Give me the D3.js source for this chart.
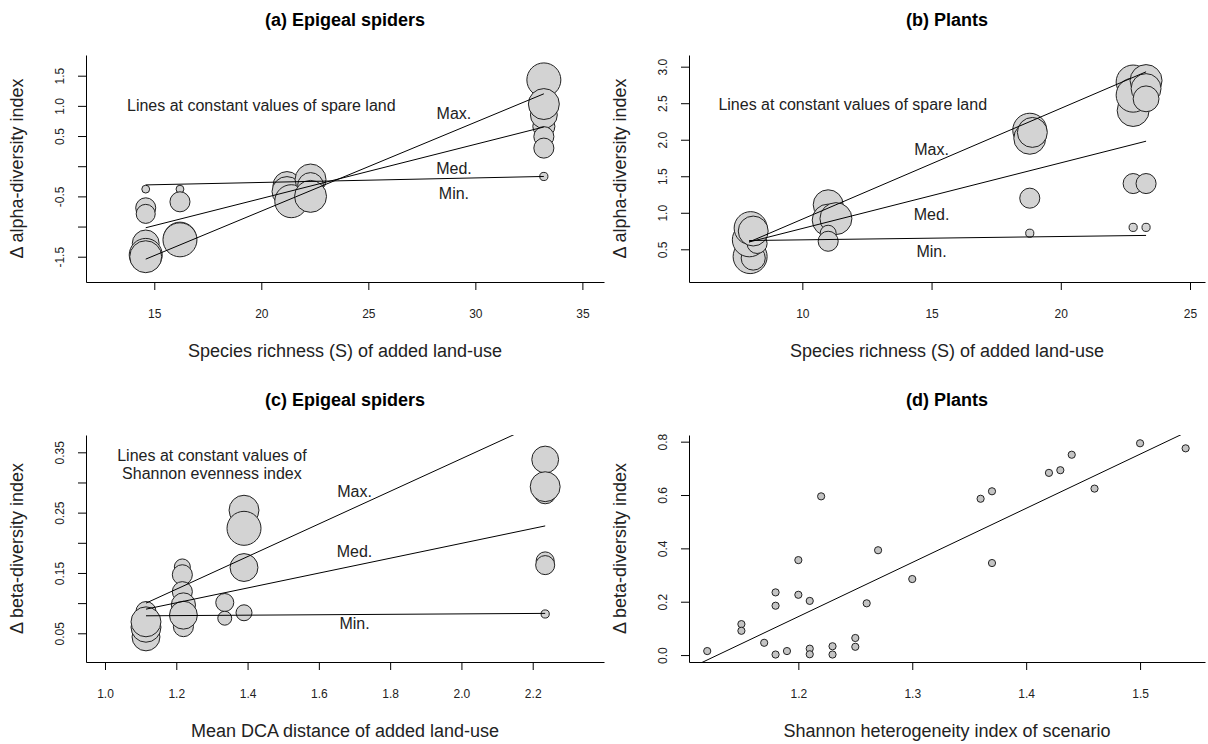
<!DOCTYPE html>
<html>
<head>
<meta charset="utf-8">
<script src="https://cdn.jsdelivr.net/npm/d3@7"></script>
<style>
  body { margin: 0; background: #fff; }
  svg { font-family: "Liberation Sans", Arial, sans-serif; }
</style>
</head>
<body>
<svg id="chart" width="1208" height="744"></svg>
<script>
// (a) spiders: alpha diversity vs species richness, bubble = spare land
const spidersAlphaX = [14.6, 14.6, 14.6, 14.6, 14.6, 14.6, 16.2, 16.2, 16.2, 16.2, 21.2, 21.2, 21.4, 22.3, 22.3, 22.3, 33.2, 33.2, 33.2, 33.2, 33.2, 33.2, 33.2];
const spidersAlphaY = [-0.38, -0.69, -0.79, -1.28, -1.47, -1.5, -0.38, -0.59, -1.2, -1.22, -0.32, -0.42, -0.58, -0.22, -0.32, -0.5, 0.66, 0.85, 1.43, 1.03, 0.49, 0.3, -0.17];
const spidersAlphaSpare = [0.23, 0.59, 0.56, 0.79, 0.97, 0.94, 0.23, 0.59, 0.97, 1.0, 0.82, 0.88, 0.97, 0.91, 0.76, 0.94, 0.65, 0.79, 1.0, 0.91, 0.59, 0.59, 0.24];
const spidersAlphaLines = [
  { name: "Max.", pts: [[14.6, -1.54], [33.2, 1.2]] },
  { name: "Med.", pts: [[14.6, -1.02], [33.2, 0.65]] },
  { name: "Min.", pts: [[14.6, -0.31], [33.2, -0.17]] },
];

// (b) plants: alpha diversity vs species richness
const plantsAlphaX = [7.98, 8.1, 7.95, 8.25, 8.0, 8.1, 11.0, 11.0, 11.3, 11.0, 11.0, 18.8, 18.8, 18.9, 18.8, 18.8, 22.8, 22.8, 22.8, 22.8, 22.8, 23.3, 23.3, 23.3, 23.3, 23.3];
const plantsAlphaY = [0.4, 0.38, 0.63, 0.58, 0.79, 0.75, 1.11, 0.9, 0.92, 0.72, 0.61, 2.13, 2.02, 2.1, 1.2, 0.72, 2.79, 2.4, 2.61, 1.4, 0.8, 2.81, 2.7, 2.56, 1.4, 0.8];
const plantsAlphaSpare = [1.0, 0.71, 1.0, 0.59, 0.97, 0.88, 0.88, 0.94, 0.94, 0.47, 0.59, 1.0, 0.94, 0.88, 0.59, 0.24, 1.0, 0.94, 1.0, 0.59, 0.24, 0.94, 0.88, 0.76, 0.59, 0.24];
const plantsAlphaLines = [
  { name: "Max.", pts: [[7.94, 0.6], [23.3, 2.93]] },
  { name: "Med.", pts: [[7.94, 0.6], [23.3, 1.98]] },
  { name: "Min.", pts: [[7.94, 0.62], [23.3, 0.69]] },
];

// (c) spiders: beta diversity vs mean DCA distance, bubble = evenness
const spidersBetaX = [1.115, 1.115, 1.115, 1.115, 1.217, 1.217, 1.217, 1.22, 1.22, 1.22, 1.336, 1.336, 1.39, 1.39, 1.39, 1.39, 2.235, 2.235, 2.235, 2.235, 2.235, 2.235];
const spidersBetaY = [0.086, 0.044, 0.06, 0.069, 0.16, 0.147, 0.119, 0.097, 0.061, 0.08, 0.101, 0.075, 0.254, 0.224, 0.159, 0.084, 0.338, 0.283, 0.293, 0.17, 0.163, 0.082];
const spidersBetaEven = [0.59, 0.82, 0.88, 0.88, 0.47, 0.59, 0.59, 0.71, 0.59, 0.82, 0.53, 0.41, 0.88, 1.0, 0.82, 0.47, 0.79, 0.65, 0.88, 0.53, 0.56, 0.24];
const spidersBetaLines = [
  { name: "Max.", pts: [[1.115, 0.1], [2.235, 0.403]] },
  { name: "Med.", pts: [[1.115, 0.09], [2.235, 0.228]] },
  { name: "Min.", pts: [[1.115, 0.079], [2.235, 0.083]] },
];

// (d) plants: beta diversity vs Shannon heterogeneity
const plantsBetaX = [1.12, 1.15, 1.15, 1.17, 1.18, 1.18, 1.18, 1.19, 1.2, 1.2, 1.21, 1.21, 1.21, 1.22, 1.23, 1.23, 1.25, 1.25, 1.26, 1.27, 1.3, 1.36, 1.37, 1.37, 1.42, 1.43, 1.44, 1.46, 1.5, 1.54];
const plantsBetaY = [0.015, 0.116, 0.091, 0.046, 0.235, 0.185, 0.002, 0.015, 0.356, 0.226, 0.203, 0.024, 0.003, 0.595, 0.033, 0.002, 0.064, 0.031, 0.194, 0.393, 0.285, 0.586, 0.614, 0.345, 0.683, 0.693, 0.751, 0.624, 0.794, 0.775];
const plantsBetaFit = [{ name: "", pts: [[1.1, -0.059], [1.56, 0.875]] }];

// tick values and labels (R drops labels that would overlap)
const alphaSpidersXTicks = [15, 20, 25, 30, 35];
const alphaSpidersYTicks = [-1.5, -1, -0.5, 0, 0.5, 1, 1.5];
const alphaSpidersYLabels = ["-1.5", "", "-0.5", "", "0.5", "1.0", "1.5"];
const alphaPlantsXTicks = [10, 15, 20, 25];
const alphaPlantsYTicks = [0.5, 1, 1.5, 2, 2.5, 3];
const alphaPlantsYLabels = ["0.5", "1.0", "1.5", "2.0", "2.5", "3.0"];
const betaSpidersXTicks = [1.0, 1.2, 1.4, 1.6, 1.8, 2.0, 2.2];
const betaSpidersYTicks = [0.05, 0.1, 0.15, 0.2, 0.25, 0.3, 0.35];
const betaSpidersYLabels = ["0.05", "", "0.15", "", "0.25", "", "0.35"];
const betaPlantsXTicks = [1.2, 1.3, 1.4, 1.5];
const betaPlantsYTicks = [0, 0.2, 0.4, 0.6, 0.8];
const betaPlantsYLabels = ["0.0", "0.2", "0.4", "0.6", "0.8"];

const svg = d3.select("#chart");
const sizeScale = d3.scaleLinear().domain([0, 1]).range([0, 17]);

const panels = [
  {
    id: "a",
    title: "(a) Epigeal spiders",
    xTitle: "Species richness (S) of added land-use",
    yTitle: "\u0394 alpha-diversity index",
    box: { left: 86, right: 604, top: 55, bottom: 282 },
    xDomain: [11.81, 36.01],
    yDomain: [-1.919, 1.843],
    xTicks: alphaSpidersXTicks,
    xFormat: d3.format("d"),
    yTicks: alphaSpidersYTicks,
    yLabels: alphaSpidersYLabels,
    xs: spidersAlphaX, ys: spidersAlphaY, sizes: spidersAlphaSpare,
    lines: spidersAlphaLines,
    notes: [
      { text: "Lines at constant values of spare land", x: 20, y: 1.01 },
      { text: "Max.", x: 29, y: 0.88 },
      { text: "Med.", x: 29, y: -0.03 },
      { text: "Min.", x: 29, y: -0.44 },
    ],
  },
  {
    id: "b",
    title: "(b) Plants",
    xTitle: "Species richness (S) of added land-use",
    yTitle: "\u0394 alpha-diversity index",
    box: { left: 689, right: 1205, top: 55, bottom: 282 },
    xDomain: [5.615, 25.58],
    yDomain: [0.0523, 3.16],
    xTicks: alphaPlantsXTicks,
    xFormat: d3.format("d"),
    yTicks: alphaPlantsYTicks,
    yLabels: alphaPlantsYLabels,
    xs: plantsAlphaX, ys: plantsAlphaY, sizes: plantsAlphaSpare,
    lines: plantsAlphaLines,
    notes: [
      { text: "Lines at constant values of spare land", x: 11.95, y: 2.49 },
      { text: "Max.", x: 15, y: 1.87 },
      { text: "Med.", x: 15, y: 0.98 },
      { text: "Min.", x: 15, y: 0.47 },
    ],
  },
  {
    id: "c",
    title: "(c) Epigeal spiders",
    xTitle: "Mean DCA distance of added land-use",
    yTitle: "\u0394 beta-diversity index",
    box: { left: 86, right: 604, top: 435, bottom: 662 },
    xDomain: [0.9467, 2.4],
    yDomain: [0.0024, 0.3787],
    xTicks: betaSpidersXTicks,
    xFormat: d3.format(".1f"),
    yTicks: betaSpidersYTicks,
    yLabels: betaSpidersYLabels,
    xs: spidersBetaX, ys: spidersBetaY, sizes: spidersBetaEven,
    lines: spidersBetaLines,
    notes: [
      { text: "Lines at constant values of", x: 1.3, y: 0.3455 },
      { text: "Shannon evenness index", x: 1.3, y: 0.315 },
      { text: "Max.", x: 1.7, y: 0.286 },
      { text: "Med.", x: 1.7, y: 0.186 },
      { text: "Min.", x: 1.7, y: 0.067 },
    ],
  },
  {
    id: "d",
    title: "(d) Plants",
    xTitle: "Shannon heterogeneity index of scenario",
    yTitle: "\u0394 beta-diversity index",
    box: { left: 689, right: 1205, top: 435, bottom: 662 },
    xDomain: [1.104, 1.557],
    yDomain: [-0.026, 0.825],
    xTicks: betaPlantsXTicks,
    xFormat: d3.format(".1f"),
    yTicks: betaPlantsYTicks,
    yLabels: betaPlantsYLabels,
    xs: plantsBetaX, ys: plantsBetaY, sizes: null,
    lines: plantsBetaFit,
    notes: [],
  },
];

function drawPanel(p) {
  const b = p.box;
  const x = d3.scaleLinear().domain(p.xDomain).range([b.left, b.right]);
  const y = d3.scaleLinear().domain(p.yDomain).range([b.bottom, b.top]);
  const g = svg.append("g").attr("class", "panel-" + p.id);

  // clip marks to the plot region like R does
  svg.append("clipPath").attr("id", "clip-" + p.id)
    .append("rect")
    .attr("x", b.left).attr("y", b.top)
    .attr("width", b.right - b.left).attr("height", b.bottom - b.top);

  const marks = g.append("g").attr("clip-path", `url(#clip-${p.id})`);

  const pts = p.xs.map((d, i) => ({ x: d, y: p.ys[i], s: p.sizes ? p.sizes[i] : null }));
  marks.selectAll("circle")
    .data(pts)
    .enter()
    .append("circle")
    .attr("cx", (d) => x(d.x))
    .attr("cy", (d) => y(d.y))
    .attr("r", (d) => (d.s === null ? 3.6 : sizeScale(d.s)))
    .style("fill", (d) => (d.s === null ? "#c4c4c4" : "#d3d3d3"))
    .style("stroke", "#222")
    .style("stroke-width", 1);

  const line = d3.line().x((d) => x(d[0])).y((d) => y(d[1]));
  marks.selectAll("path.fit")
    .data(p.lines)
    .enter()
    .append("path")
    .attr("class", "fit")
    .attr("d", (d) => line(d.pts))
    .style("fill", "none")
    .style("stroke", "#000")
    .style("stroke-width", 1);

  // axes (bty = "l")
  const gx = g.append("g")
    .attr("transform", `translate(0,${b.bottom})`)
    .call(d3.axisBottom(x).tickValues(p.xTicks).tickFormat(p.xFormat).tickSize(8).tickSizeOuter(0));
  gx.selectAll("text")
    .attr("y", 32).attr("dy", "0.35em")
    .style("font-size", "12px").style("fill", "#222");

  const gy = g.append("g")
    .attr("transform", `translate(${b.left},0)`)
    .call(d3.axisLeft(y).tickValues(p.yTicks).tickFormat((d, i) => p.yLabels[i]).tickSize(8).tickSizeOuter(0));
  gy.selectAll("text")
    .attr("transform", "rotate(-90)")
    .attr("x", 0).attr("y", -22.5).attr("dy", 0)
    .attr("text-anchor", "middle")
    .style("font-size", "12px").style("fill", "#222");

  g.selectAll(".domain, .tick line").style("stroke", "#000");

  // notes
  g.selectAll("text.note")
    .data(p.notes)
    .enter()
    .append("text")
    .attr("class", "note")
    .attr("x", (d) => x(d.x))
    .attr("y", (d) => y(d.y))
    .attr("dy", "0.36em")
    .attr("text-anchor", "middle")
    .style("font-size", "16px")
    .style("fill", "#222")
    .text((d) => d.text);

  const cx = (b.left + b.right) / 2;
  const cy = (b.top + b.bottom) / 2;

  g.append("text")
    .attr("x", cx).attr("y", b.top - 35).attr("dy", "0.36em")
    .attr("text-anchor", "middle")
    .style("font-size", "18px").style("font-weight", "bold")
    .text(p.title);

  g.append("text")
    .attr("x", cx).attr("y", b.bottom + 69).attr("dy", "0.36em")
    .attr("text-anchor", "middle")
    .style("font-size", "18px").style("fill", "#222")
    .text(p.xTitle);

  g.append("text")
    .attr("transform", `translate(${b.left - 69},${cy}) rotate(-90)`)
    .attr("dy", "0.36em")
    .attr("text-anchor", "middle")
    .style("font-size", "18px").style("fill", "#222")
    .text(p.yTitle);
}

panels.forEach(drawPanel);
</script>
</body>
</html>
